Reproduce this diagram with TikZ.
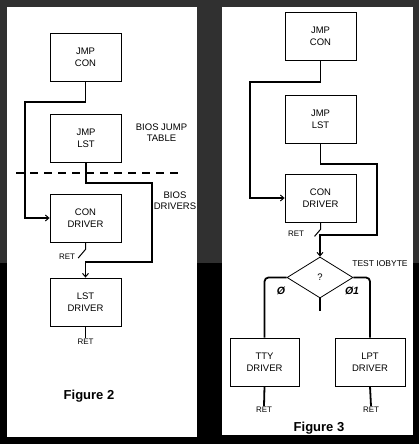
\documentclass[tikz,border=0pt]{standalone}
\usepackage{fontspec}
\setmainfont{Liberation Sans}
\usetikzlibrary{arrows.meta,shapes.geometric}
\definecolor{bgtop}{RGB}{48,48,48}
\begin{document}
\begin{tikzpicture}[x=1pt,y=-1pt,
  boxnode/.style={draw,line width=0.8pt,minimum width=71pt,minimum height=48pt,inner sep=0pt,align=center,font=\fontsize{9.5}{12}\selectfont},
  conn/.style={line width=1.8pt},
  thinconn/.style={line width=1pt},
  tip/.style={-{Straight Barb[length=3.5pt,width=6pt,line width=1pt]}},
  lbl/.style={inner sep=1pt,align=center,font=\fontsize{9.5}{11}\selectfont},
  retlbl/.style={inner sep=1pt,font=\fontsize{8}{9}\selectfont},
  figlbl/.style={inner sep=0pt,font=\fontsize{13}{15}\selectfont\bfseries},
  bitlbl/.style={inner sep=0pt,font=\fontsize{10.5}{12}\selectfont\bfseries\itshape}]
\useasboundingbox (0,0) rectangle (419,444);
\fill[bgtop] (0,0) rectangle (419,263);
\fill[black] (0,263) rectangle (419,444);
\fill[white] (7,7) rectangle (197,437);
\fill[white] (222,7) rectangle (413,435);

% ---------- Figure 2 ----------
\node[boxnode] (lcon) at (85.5,57) {JMP\\CON};
\node[boxnode] (llst) at (86,138) {JMP\\LST};
\node[boxnode] (lcond) at (85.5,218) {CON\\DRIVER};
\node[boxnode] (llstd) at (85.5,302) {LST\\DRIVER};
\node[lbl] (jt) at (161.5,133) {BIOS JUMP\\TABLE};
\node[lbl] (bd) at (175,201) {BIOS\\DRIVERS};
\coordinate (dl) at (16,173);
\coordinate (dr) at (180,173);
\draw[line width=1.8pt,dash pattern=on 8pt off 6pt] (dl) -- (dr);
\draw[conn,tip] (lcon.south) -- (lcon.south |- 0,102) -- (25,102) |- (lcond.west);
\draw[conn,tip] (llst.south) -- (llst.south |- 0,183) -| (152,262) -| (llstd.north);
\node[retlbl] (lret1) at (67,257) {RET};
\draw[thinconn] (lcond.south) -- ++(0,7) -- ([xshift=2pt,yshift=-1pt]lret1.east);
\node[retlbl] (lret2) at (85.5,342) {RET};
\draw[conn] (llstd.south) -- (lret2.north);
\node[figlbl] (fig2) at (89,396) {Figure 2};

% ---------- Figure 3 ----------
\node[boxnode] (rcon) at (320.5,36) {JMP\\CON};
\node[boxnode] (rlst) at (320.5,119.5) {JMP\\LST};
\node[boxnode] (rcond) at (320.5,198) {CON\\DRIVER};
\node[draw,line width=0.8pt,diamond,minimum width=66pt,minimum height=41pt,inner sep=0pt,font=\fontsize{9.5}{11}\selectfont] (q) at (320,277.5) {?};
\node[boxnode,minimum width=69pt] (tty) at (264.5,362) {TTY\\DRIVER};
\node[boxnode,minimum width=70pt] (lpt) at (370,362) {LPT\\DRIVER};
\draw[conn,tip] (rcon.south) -- (rcon.south |- 0,82) -- (250,82) |- (rcond.west);
\draw[conn,tip] (rlst.south) -- (rlst.south |- 0,164) -| (377,235) -| (q.north);
\node[retlbl] (rret1) at (296,234) {RET};
\draw[thinconn] (rcond.south) -- ++(0,7) -- ++(-6,7);
\node[lbl,font=\fontsize{8.5}{10}\selectfont] (tio) at (380,264) {TEST IOBYTE};
\coordinate (qs) at (320,311);
\draw[conn] (q.south) -- (qs);
\draw[conn,rounded corners=4pt] (q.west) -| (tty.north);
\draw[conn,rounded corners=4pt] (q.east) -| (lpt.north);
\node[bitlbl] (b0) at (281,291) {Ø};
\node[bitlbl] (b1) at (352,291) {Ø1};
\node[retlbl] (rret2) at (264,410) {RET};
\node[retlbl] (rret3) at (371,410) {RET};
\draw[conn] (tty.south) -- (rret2.north);
\draw[conn] (lpt.south) -- (rret3.north);
\node[figlbl] (fig3) at (319,428) {Figure 3};
\end{tikzpicture}
\end{document}
